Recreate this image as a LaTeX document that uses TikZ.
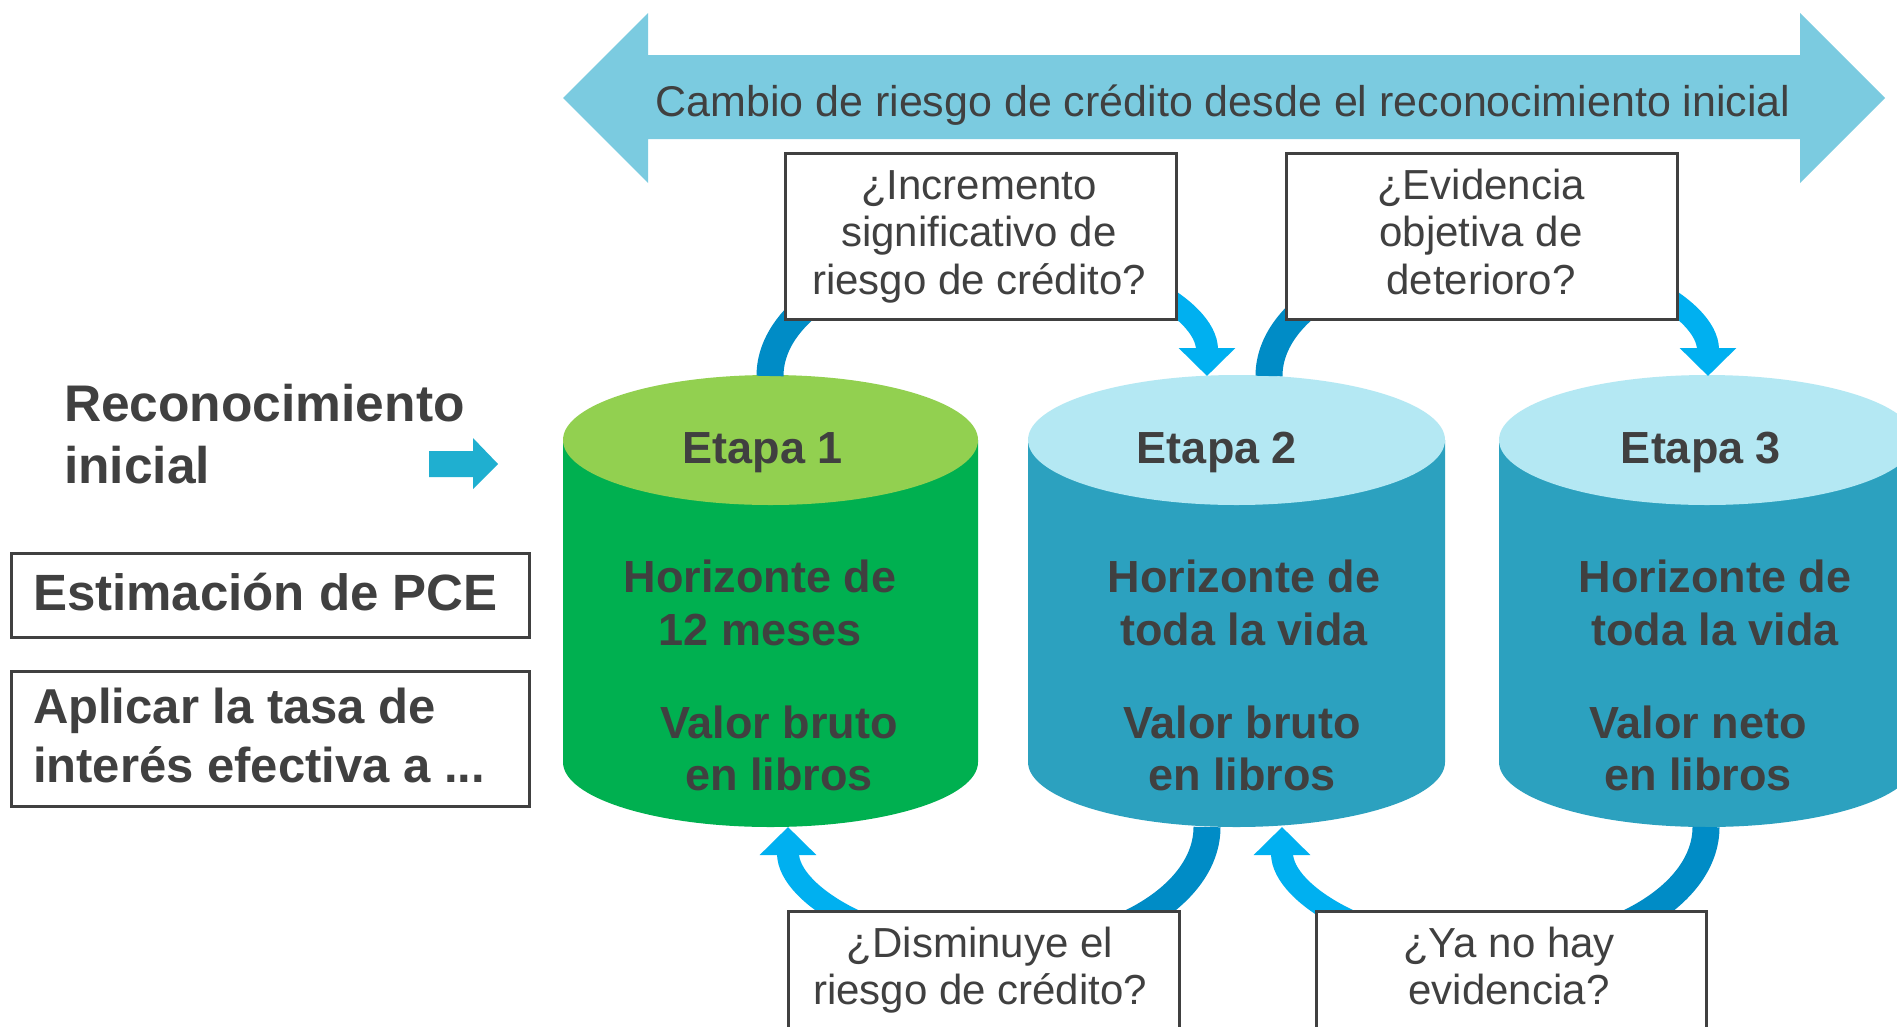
\documentclass[tikz,border=0pt]{standalone}
\usepackage{fontspec}
\setmainfont{Liberation Sans}
\usetikzlibrary{arrows.meta}
\definecolor{txt}{HTML}{404040}
\definecolor{titlebg}{HTML}{7BCBE0}
\definecolor{smallarr}{HTML}{1FAFD0}
\definecolor{gtop}{HTML}{92D050}
\definecolor{gbody}{HTML}{00B050}
\definecolor{btop}{HTML}{B4E8F3}
\definecolor{bbody}{HTML}{2CA1BF}
\definecolor{darkarc}{HTML}{008CC6}
\definecolor{brightarc}{HTML}{00B0F0}
\newcommand\mlc[2]{\vtop{\baselineskip=#1\lineskiplimit=-1000pt\halign{\hfil##\hfil\cr#2\crcr}}}
\newcommand\mll[2]{\vtop{\baselineskip=#1\lineskiplimit=-1000pt\halign{##\hfil\cr#2\crcr}}}
\begin{document}
\begin{tikzpicture}[x=1pt,y=-1pt,
  every node/.style={inner sep=0pt, outer sep=0pt, text=txt},
  qbox/.style={draw=txt, line width=3pt, fill=white, rectangle},
  qtext/.style={anchor=base, font=\fontsize{42}{47.5}\selectfont},
  ctext/.style={anchor=base, font=\bfseries\fontsize{45}{52.5}\selectfont},
  ltext/.style={anchor=base west, font=\bfseries\fontsize{49}{59}\selectfont},
  darc/.style={draw=darkarc, line width=27pt},
  barc/.style={draw=brightarc, line width=22pt, -{Triangle[length=28pt,width=55pt]}},
]
\useasboundingbox (0,0) rectangle (1897,1026);
\clip (0,0) rectangle (1897,1026);
\fill[white] (0,0) rectangle (1897,1026);

% title double arrow
\fill[titlebg] (563,98) -- (648,13) -- (648,55) -- (1800,55) -- (1800,13) -- (1885,98)
  -- (1800,183) -- (1800,139) -- (648,139) -- (648,183) -- cycle;
\node[anchor=base, font=\fontsize{43}{50}\selectfont] (title) at (1223,116)
  {Cambio de riesgo de crédito desde el reconocimiento inicial};

% left texts
\node[ltext, font=\bfseries\fontsize{51.5}{62}\selectfont] (reco) at (64,421) {\mll{62pt}{Reconocimiento\cr inicial}};
\fill[smallarr] (429,451) -- (473,451) -- (473,438) -- (498,464) -- (473,489) -- (473,477) -- (429,477) -- cycle;
\node[qbox, minimum width=518pt, minimum height=84pt] (ebox) at (270,595) {};
\node[ltext, font=\bfseries\fontsize{51}{59}\selectfont] (etext) at (33,610) {Estimación de PCE};
\node[qbox, minimum width=518pt, minimum height=135pt] (abox) at (270,738.5) {};
\node[ltext] (atext) at (33,723) {\mll{59pt}{Aplicar la tasa de\cr interés efectiva a ...}};

% cylinders
\fill[gbody] (563,440) -- (563,762) arc[start angle=180, end angle=360, x radius=207.5pt, y radius=65pt] -- (978,440) -- cycle;
\fill[gtop] (770.5,440) ellipse[x radius=207.5pt, y radius=65pt];
\fill[bbody] (1028,440) -- (1028,762) arc[start angle=180, end angle=360, x radius=208.5pt, y radius=65pt] -- (1445,440) -- cycle;
\fill[btop] (1236.5,440) ellipse[x radius=208.5pt, y radius=65pt];
\fill[bbody] (1499,440) -- (1499,762) arc[start angle=180, end angle=360, x radius=208pt, y radius=65pt] -- (1915,440) -- cycle;
\fill[btop] (1707,440) ellipse[x radius=208pt, y radius=65pt];

\node[ctext] (e1) at (763,463) {Etapa 1};
\node[ctext] (h1) at (760,592) {\mlc{53pt}{Horizonte de\cr 12 meses}};
\node[ctext] (v1) at (779,738) {\mlc{52pt}{Valor bruto\cr en libros}};
\node[ctext] (e2) at (1217,463) {Etapa 2};
\node[ctext] (h2) at (1244,592) {\mlc{53pt}{Horizonte de\cr toda la vida}};
\node[ctext] (v2) at (1242,738) {\mlc{52pt}{Valor bruto\cr en libros}};
\node[ctext] (e3) at (1701,463) {Etapa 3};
\node[ctext] (h3) at (1715,592) {\mlc{53pt}{Horizonte de\cr toda la vida}};
\node[ctext] (v3) at (1698,738) {\mlc{52pt}{Valor neto\cr en libros}};

% connector points
\coordinate (c1t) at (770,376);
\coordinate (a1m) at (988.5,252);
\coordinate (c2t) at (1269,376);
\coordinate (a2m) at (1488.5,252);
\coordinate (c2b) at (1207,827);
\coordinate (b1m) at (997.5,951);
\coordinate (c3b) at (1706,827);
\coordinate (b2m) at (1494,951);

% arcs
\draw[darc] (c1t) arc[start angle=180, end angle=90, x radius=218.5pt, y radius=124pt];
\draw[barc] (a1m) arc[start angle=90, end angle=0, x radius=218.5pt, y radius=124pt];
\draw[darc] (c2t) arc[start angle=180, end angle=90, x radius=219.5pt, y radius=124pt];
\draw[barc] (a2m) arc[start angle=90, end angle=0, x radius=219.5pt, y radius=124pt];
\draw[darc] (c2b) arc[start angle=0, end angle=-90, x radius=209.5pt, y radius=124pt];
\draw[barc] (b1m) arc[start angle=-90, end angle=-180, x radius=209.5pt, y radius=124pt];
\draw[darc] (c3b) arc[start angle=0, end angle=-90, x radius=212pt, y radius=124pt];
\draw[barc] (b2m) arc[start angle=-90, end angle=-180, x radius=212pt, y radius=124pt];

% question boxes
\node[qbox, minimum width=390.5pt, minimum height=166pt] (q1) at (980.75,236) {};
\node[qtext] (q1t) at (979,199) {\mlc{47.5pt}{¿Incremento\cr significativo de\cr riesgo de crédito?}};
\node[qbox, minimum width=391pt, minimum height=166pt] (q2) at (1481.5,236) {};
\node[qtext] (q2t) at (1481,199) {\mlc{47.5pt}{¿Evidencia\cr objetiva de\cr deterioro?}};
\node[qbox, minimum width=391pt, minimum height=130pt] (q3) at (983.5,976) {};
\node[qtext] (q3t) at (980,957) {\mlc{47pt}{¿Disminuye el\cr riesgo de crédito?}};
\node[qbox, minimum width=390pt, minimum height=130pt] (q4) at (1511,976) {};
\node[qtext] (q4t) at (1509,957) {\mlc{47pt}{¿Ya no hay\cr evidencia?}};
\end{tikzpicture}
\end{document}
